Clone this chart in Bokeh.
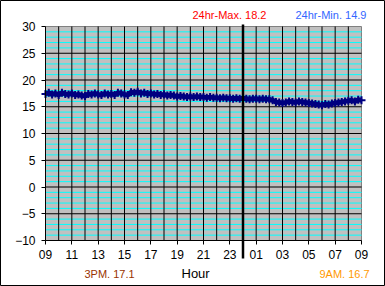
from bokeh.plotting import figure
from bokeh.models import FixedTicker
from bokeh.core.properties import value
from bokeh.embed import file_html
from bokeh.resources import INLINE

# ---- data ----
X_TICKS = [0, 2, 4, 6, 8, 10, 12, 14, 16, 18, 20, 22, 24]
X_LABELS = ["09", "11", "13", "15", "17", "19", "21", "23", "01", "03", "05", "07", "09"]
GRID_HOURS = list(range(1, 24))
Y_TICKS = [-10, -5, 0, 5, 10, 15, 20, 25, 30]
Y_MAJOR_GRID = [-5, 0, 5, 10, 15, 20, 25]
Y_MINOR = [v for v in range(-10, 31) if v % 5 != 0]
MIDNIGHT = 15

# temperature, every 15 minutes from 09:00 to 09:00 next day
TEMP = [
    17.4, 17.6, 17.3, 17.5,
    17.2, 17.6, 17.4, 17.3,
    17.5, 17.2, 17.3, 17.1,
    17.0, 17.4, 17.3, 17.5,
    17.3, 17.2, 17.5, 17.3,
    17.4, 17.2, 17.6, 17.5,
    17.3, 17.2, 17.7, 17.6,
    17.8, 17.5, 17.6, 17.4,
    17.5, 17.3, 17.4, 17.2,
    17.3, 17.1, 17.2, 17.1,
    16.9, 17.0, 16.9, 16.8,
    16.9, 16.8, 16.9, 16.8,
    16.8, 16.7, 16.8, 16.7,
    16.7, 16.6, 16.7, 16.6,
    16.6, 16.5, 16.6, 16.5,
    16.6, 16.5, 16.4, 16.5,
    16.5, 16.4, 16.5, 16.4,
    16.4, 16.2, 15.9, 15.8,
    15.7, 15.8, 16.0, 15.9,
    15.8, 16.0, 15.9, 15.8,
    15.7, 15.6, 15.5, 15.4,
    15.3, 15.5, 15.4, 15.6,
    15.7, 15.8, 15.9, 16.0,
    16.1, 16.2, 16.0, 16.3,
    16.2,
]
HOURS = [i * 0.25 for i in range(len(TEMP))]

MAX_TEXT = "24hr-Max. 18.2"
MIN_TEXT = "24hr-Min. 14.9"
PM_TEXT = "3PM. 17.1"
AM_TEXT = "9AM. 16.7"
X_TITLE = "Hour"

# ---- layout constants (pixels) ----
W, H = 385, 286
LEFT, RIGHT, TOP, BOTTOM = 45, 361, 26, 240
X0, X1 = 0, 24
Y0, Y1 = -10, 30
PXH = (RIGHT - LEFT) / (X1 - X0)
PXV = (BOTTOM - TOP) / (Y1 - Y0)

def hx(px):
    return X0 + (px - LEFT) / PXH

def vy(py):
    return Y0 + (BOTTOM - py) / PXV

FONT = "Liberation Sans"

p = figure(width=W, height=H,
           x_range=(hx(0), hx(W)), y_range=(vy(H), vy(0)),
           output_backend="svg", toolbar_location=None,
           min_border=0, min_border_left=0, min_border_right=0,
           min_border_top=0, min_border_bottom=0)
p.background_fill_color = "white"
p.border_fill_color = "white"
p.outline_line_color = "black"
p.outline_line_width = 1
p.grid.visible = False

# plot area background
p.quad(left=[X0], right=[X1], bottom=[Y0], top=[Y1],
       fill_color="#C0C0C0", line_color="#808080", line_width=1)

# grid lines inside the plot area
p.segment(x0=[X0] * len(Y_MINOR), x1=[X1] * len(Y_MINOR), y0=Y_MINOR, y1=Y_MINOR,
          line_color="#00FFFF", line_width=1)
p.segment(x0=[X0] * len(Y_MAJOR_GRID), x1=[X1] * len(Y_MAJOR_GRID),
          y0=Y_MAJOR_GRID, y1=Y_MAJOR_GRID, line_color="black", line_width=1)
p.segment(x0=GRID_HOURS, x1=GRID_HOURS, y0=[Y0] * len(GRID_HOURS), y1=[Y1] * len(GRID_HOURS),
          line_color="black", line_width=1)

# x axis
xa = p.xaxis[0]
xa.fixed_location = Y0
xa.bounds = (X0, X1)
xa.ticker = FixedTicker(ticks=X_TICKS, minor_ticks=[])
xa.major_label_overrides = {t: l for t, l in zip(X_TICKS, X_LABELS)}
xa.major_tick_out = 4
xa.major_tick_in = 0
xa.minor_tick_out = 0
xa.minor_tick_in = 0
xa.major_label_standoff = 5
xa.axis_line_color = "black"
xa.major_tick_line_color = "black"
xa.major_label_text_font = FONT
xa.major_label_text_font_size = "12px"
xa.major_label_text_color = "black"

# y axis
ya = p.yaxis[0]
ya.fixed_location = X0
ya.bounds = (Y0, Y1)
ya.ticker = FixedTicker(ticks=Y_TICKS, minor_ticks=[])
ya.major_tick_out = 4
ya.major_tick_in = 0
ya.minor_tick_out = 0
ya.minor_tick_in = 0
ya.major_label_standoff = 6
ya.axis_line_color = "black"
ya.major_tick_line_color = "black"
ya.major_label_text_font = FONT
ya.major_label_text_font_size = "12px"
ya.major_label_text_color = "black"

# series
p.line(HOURS, TEMP, line_color="#000080", line_width=5)
p.scatter(HOURS, TEMP, marker="cross", size=8, line_color="#000080", line_width=2)

# midnight divider (extends a little above and below the plot area)
p.segment(x0=[MIDNIGHT], x1=[MIDNIGHT], y0=[vy(TOP - 2)], y1=[vy(BOTTOM + 18)],
          line_color="black", line_width=2.5)

# texts
def add_text(x, y, text, color, size="11px"):
    p.text(x=[x], y=[y], text=[text], text_color=color, text_font=value(FONT),
           text_font_size=size, text_baseline="middle", text_align="left")

add_text(hx(192), vy(14), MAX_TEXT, "#FF0000")
add_text(hx(295), vy(14), MIN_TEXT, "#3366FF")
add_text(hx(84), vy(273), PM_TEXT, "#993300")
add_text(hx(181), vy(273), X_TITLE, "black", "13px")
add_text(hx(319), vy(273), AM_TEXT, "#FF9900")

open("out.html", "w").write(file_html(p, INLINE))
